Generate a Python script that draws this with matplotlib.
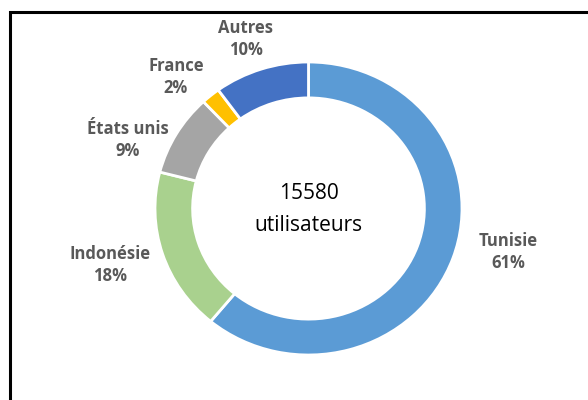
import matplotlib
matplotlib.use("Agg")
import matplotlib.pyplot as plt
from matplotlib.patches import Rectangle

categories = ["Tunisie", "Indonésie", "États unis", "France", "Autres"]
values = [61, 18, 9, 2, 10]
colors = ["#5B9BD5", "#A9D18E", "#A5A5A5", "#FFC000", "#4472C4"]
total_users = "15580"
center_caption = "utilisateurs"

# label anchor positions in pixel space (x, y from top)
label_pos = [(508, 252), (110, 265), (128, 140), (176, 77), (246, 39)]

W, H = 588, 400
fig = plt.figure(figsize=(W / 100, H / 100), dpi=100)
ax = fig.add_axes([0, 0, 1, 1])

# pie centre (pixels from top-left) and pixel scale per unit radius
cx_px, cy_px = 308.5, 208.5
sx, sy = 153.5, 146.5

wedges, _ = ax.pie(values, colors=colors, startangle=90, counterclock=False,
                   radius=1, frame=True,
                   wedgeprops=dict(width=0.245, edgecolor="white", linewidth=2))
ax.set_aspect("auto")
ax.set_xlim(-cx_px / sx, (W - cx_px) / sx)
ax.set_ylim(-(H - cy_px) / sy, cy_px / sy)
ax.axis("off")

for cat, v, (lx, ly) in zip(categories, values, label_pos):
    ax.text(lx, H - ly, f"{cat}\n{v}%", ha="center", va="center",
            transform=None, fontsize=12, fontweight="bold", color="#595959",
            family="Open Sans", linespacing=1.32)

ax.text(cx_px, H - cy_px - 1, f"{total_users}\n{center_caption}", ha="center",
        va="center", transform=None, fontsize=15, color="black",
        family="Open Sans", linespacing=1.72)

fig.patches.append(Rectangle((10, -20), W + 40, H - 12 + 20, transform=None,
                             fill=False, edgecolor="black", linewidth=2.2,
                             figure=fig))

fig.savefig("out.png", dpi=100)
